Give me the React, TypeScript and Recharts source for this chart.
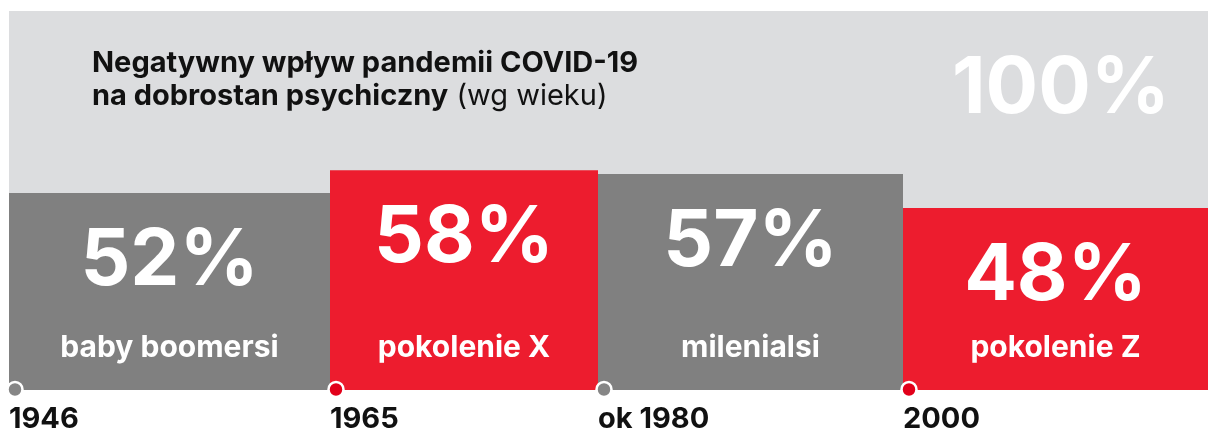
import { ComposedChart, XAxis, YAxis, ReferenceArea, Scatter } from 'recharts'

const generations = ['baby boomersi', 'pokolenie X', 'milenialsi', 'pokolenie Z']
const shares = [52, 58, 57, 48]
const spans = [321, 268, 305, 305]
const startYears = ['1946', '1965', 'ok 1980', '2000']
const barColors = ['#808080', '#ED1C2E', '#808080', '#ED1C2E']
const dotColors = ['#868686', '#E2001A', '#868686', '#E2001A']

const edges = spans.reduce<number[]>((acc, s) => [...acc, acc[acc.length - 1] + s], [0])
const total = edges[edges.length - 1]
const dots = startYears.map((_, i) => ({ x: edges[i], y: 0, color: dotColors[i] }))

const FONT = 'Inter, "Open Sans", sans-serif'

function Header({ viewBox }: any) {
  const { x, y, width } = viewBox
  return (
    <g fontFamily={FONT}>
      <text x={x + 83} y={y + 61} fontSize={29} fontWeight={700} fill="#111">
        Negatywny wpływ pandemii COVID-19
      </text>
      <text x={x + 83} y={y + 94} fontSize={29} fill="#111">
        <tspan fontWeight={700}>na dobrostan psychiczny</tspan>
        <tspan fontWeight={400}> (wg wieku)</tspan>
      </text>
      <text x={x + width - 38} y={y + 102} fontSize={78} fontWeight={700} fill="#fff" textAnchor="end">
        100%
      </text>
    </g>
  )
}

function BlockLabel({ viewBox, share, name }: any) {
  const { x, y, width, height } = viewBox
  const cx = x + width / 2
  return (
    <g fontFamily={FONT} fill="#fff" textAnchor="middle" fontWeight={700}>
      <text x={cx} y={y + 92} fontSize={78}>{share}%</text>
      <text x={cx} y={y + height - 33} fontSize={30}>{name}</text>
    </g>
  )
}

function YearTick({ x, y, index }: any) {
  return (
    <text x={x} y={y + 30} fontFamily={FONT} fontSize={29} fontWeight={700} fill="#111" textAnchor="start">
      {startYears[index]}
    </text>
  )
}

function Dot({ cx, cy, payload }: any) {
  return <circle cx={cx + 6} cy={cy - 0.5} r={7.5} fill={payload.color} stroke="#fff" strokeWidth={2.5} />
}

export default function App() {
  return (
    <div style={{ position: 'fixed', left: 0, top: 0 }}>
      <ComposedChart width={1208} height={436} margin={{ top: 11, right: 0, left: 9, bottom: 0 }}>
        <XAxis
          dataKey="x"
          type="number"
          domain={[0, total]}
          ticks={edges.slice(0, 4)}
          tick={<YearTick />}
          axisLine={false}
          tickLine={false}
          height={46}
          interval={0}
        />
        <YAxis type="number" domain={[0, 100]} hide />
        <ReferenceArea x1={0} x2={total} y1={0} y2={100} fill="#DCDDDF" fillOpacity={1} stroke="none" label={<Header />} />
        {shares.map((v, i) => (
          <ReferenceArea
            key={generations[i]}
            x1={edges[i]}
            x2={edges[i + 1]}
            y1={0}
            y2={v}
            fill={barColors[i]}
            fillOpacity={1}
            stroke="none"
            label={<BlockLabel share={v} name={generations[i]} />}
          />
        ))}
        <Scatter data={dots} dataKey="y" shape={<Dot />} isAnimationActive={false} />
      </ComposedChart>
    </div>
  )
}
